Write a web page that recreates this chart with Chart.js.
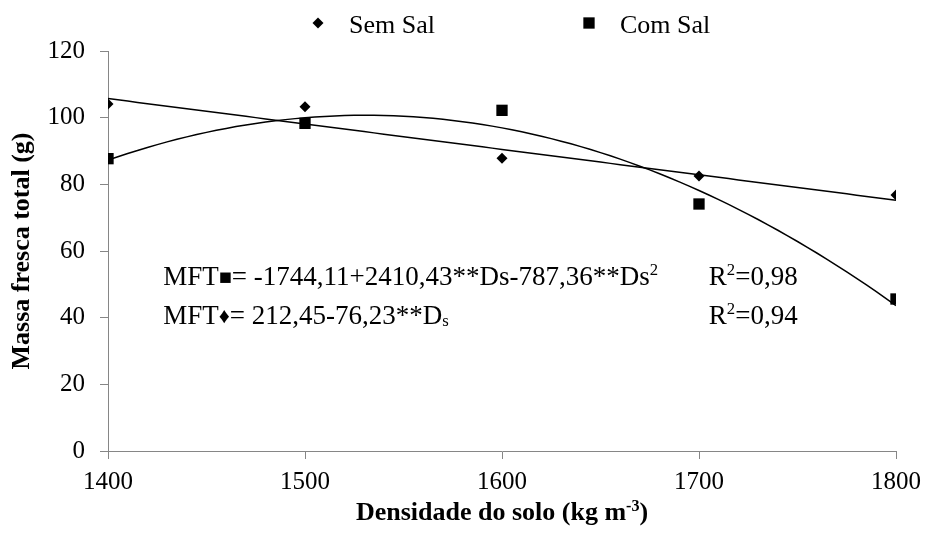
<!DOCTYPE html>
<html>
<head>
<meta charset="utf-8">
<script src="https://cdn.jsdelivr.net/npm/chart.js@4.4.1/dist/chart.umd.min.js"></script>
<style>
  body { margin: 0; background: #fff; }
  #wrap { width: 929px; height: 533px; }
</style>
</head>
<body>
<div id="wrap"><canvas id="massChart" width="929" height="533"></canvas></div>
<script>
const densities = [1400, 1500, 1600, 1700, 1800];
const semSal = [104.1, 103.3, 87.8, 82.5, 76.8];
const comSal = [87.7, 98.3, 102.2, 74.1, 45.6];
const xTicks = [1400, 1500, 1600, 1700, 1800];
const yTicks = [0, 20, 40, 60, 80, 100, 120];

// coeficientes das equações ajustadas (Ds em g cm-3)
const semSalFit = [212.45, -76.23];
const comSalFit = [-1744.11, 2410.43, -787.36];

const SERIF = '"Liberation Serif", "Times New Roman", serif';
const AXIS_GRAY = '#868686';

function polyAt(coefs, d) {
  const ds = d / 1000;
  return coefs.reduce((acc, c, i) => acc + c * Math.pow(ds, i), 0);
}

function fitCurve(coefs) {
  const pts = [];
  for (let d = densities[0]; d <= densities[densities.length - 1]; d += 5) {
    pts.push({ x: d, y: polyAt(coefs, d) });
  }
  return pts;
}

// texto com partes sobrescritas / subscritas
function drawRich(ctx, parts, x, y, size, weight) {
  let cx = x;
  parts.forEach(([txt, mode]) => {
    let s = size, dy = 0;
    if (mode === 'sup') { s = size * 0.62; dy = -size * 0.36; }
    if (mode === 'sub') { s = size * 0.62; dy = size * 0.06; }
    if (mode === 'sym') { s = size * 0.8; dy = -size * 0.02; }
    ctx.font = `${weight || ''} ${s}px ${SERIF}`;
    ctx.fillText(txt, cx, y + dy);
    cx += ctx.measureText(txt).width;
  });
}

const extras = {
  id: 'extras',
  afterDraw(chart) {
    const { ctx, chartArea: area, scales } = chart;
    const sx = scales.x, sy = scales.y;
    ctx.save();
    ctx.fillStyle = '#000';
    ctx.textAlign = 'left';
    ctx.textBaseline = 'alphabetic';

    // legenda
    const Hp = Chart.helpers;
    Hp.drawPoint(ctx, { pointStyle: 'rectRot', radius: 5.5, rotation: 0, borderWidth: 0 }, area.left + 210, 23);
    ctx.fillStyle = '#000';
    Hp.drawPoint(ctx, { pointStyle: 'rect', radius: 8, rotation: 0, borderWidth: 0 }, area.left + 481, 23);
    ctx.fillStyle = '#000';
    ctx.font = `26px ${SERIF}`;
    ctx.fillText('Sem Sal', area.left + 241, 33);
    ctx.fillText('Com Sal', area.left + 512, 33);

    // equações
    const ex = sx.getPixelForValue(1428);
    const rx = sx.getPixelForValue(1705);
    const y1 = sy.getPixelForValue(49.8);
    const y2 = sy.getPixelForValue(38.1);
    drawRich(ctx, [['MFT'], ['\u25A0', 'sym'], ['= -1744,11+2410,43**Ds-787,36**Ds'], ['2', 'sup']], ex, y1, 27);
    drawRich(ctx, [['R'], ['2', 'sup'], ['=0,98']], rx, y1, 27);
    drawRich(ctx, [['MFT'], ['\u2666', 'sym'], ['= 212,45-76,23**D'], ['s', 'sub']], ex, y2, 27);
    drawRich(ctx, [['R'], ['2', 'sup'], ['=0,94']], rx, y2, 27);

    // título do eixo x
    const parts = [['Densidade do solo (kg m'], ['-3', 'sup'], [')']];
    let w = 0;
    parts.forEach(([t, m]) => {
      ctx.font = `bold ${m ? 26 * 0.62 : 26}px ${SERIF}`;
      w += ctx.measureText(t).width;
    });
    drawRich(ctx, parts, (area.left + area.right) / 2 - w / 2, 520, 26, 'bold');
    ctx.restore();
  }
};

new Chart(document.getElementById('massChart'), {
  type: 'scatter',
  data: {
    datasets: [
      {
        label: 'Sem Sal',
        data: densities.map((d, i) => ({ x: d, y: semSal[i] })),
        pointStyle: 'rectRot',
        pointRadius: 5.5,
        backgroundColor: '#000',
        borderWidth: 0
      },
      {
        label: 'Com Sal',
        data: densities.map((d, i) => ({ x: d, y: comSal[i] })),
        pointStyle: 'rect',
        pointRadius: 8,
        backgroundColor: '#000',
        borderWidth: 0
      },
      {
        label: 'ajuste Sem Sal',
        data: fitCurve(semSalFit),
        showLine: true,
        pointRadius: 0,
        borderColor: '#000',
        borderWidth: 1.5
      },
      {
        label: 'ajuste Com Sal',
        data: fitCurve(comSalFit),
        showLine: true,
        pointRadius: 0,
        borderColor: '#000',
        borderWidth: 1.5
      }
    ]
  },
  options: {
    responsive: false,
    animation: false,
    layout: { padding: { top: 51, right: 29, left: 0, bottom: 0 } },
    plugins: {
      legend: { display: false },
      tooltip: { enabled: false }
    },
    scales: {
      x: {
        type: 'linear',
        min: 1400,
        max: 1800,
        afterBuildTicks: s => { s.ticks = xTicks.map(v => ({ value: v })); },
        afterFit: s => { s.height = 82; },
        grid: { drawOnChartArea: false, color: AXIS_GRAY, tickLength: 8 },
        border: { color: AXIS_GRAY, width: 1 },
        ticks: {
          color: '#000',
          padding: 8,
          maxRotation: 0,
          font: { family: SERIF, size: 25 },
          callback: v => String(v)
        }
      },
      y: {
        min: 0,
        max: 120,
        afterBuildTicks: s => { s.ticks = yTicks.map(v => ({ value: v })); },
        afterFit: s => { s.width = 108; },
        grid: { drawOnChartArea: false, color: AXIS_GRAY, tickLength: 8 },
        border: { color: AXIS_GRAY, width: 1 },
        ticks: { color: '#000', padding: 15, font: { family: SERIF, size: 25 } },
        title: {
          display: true,
          text: 'Massa fresca total (g)',
          color: '#000',
          padding: { top: 7, bottom: 0 },
          font: { family: SERIF, size: 26, weight: 'bold' }
        }
      }
    }
  },
  plugins: [extras]
});
</script>
</body>
</html>
